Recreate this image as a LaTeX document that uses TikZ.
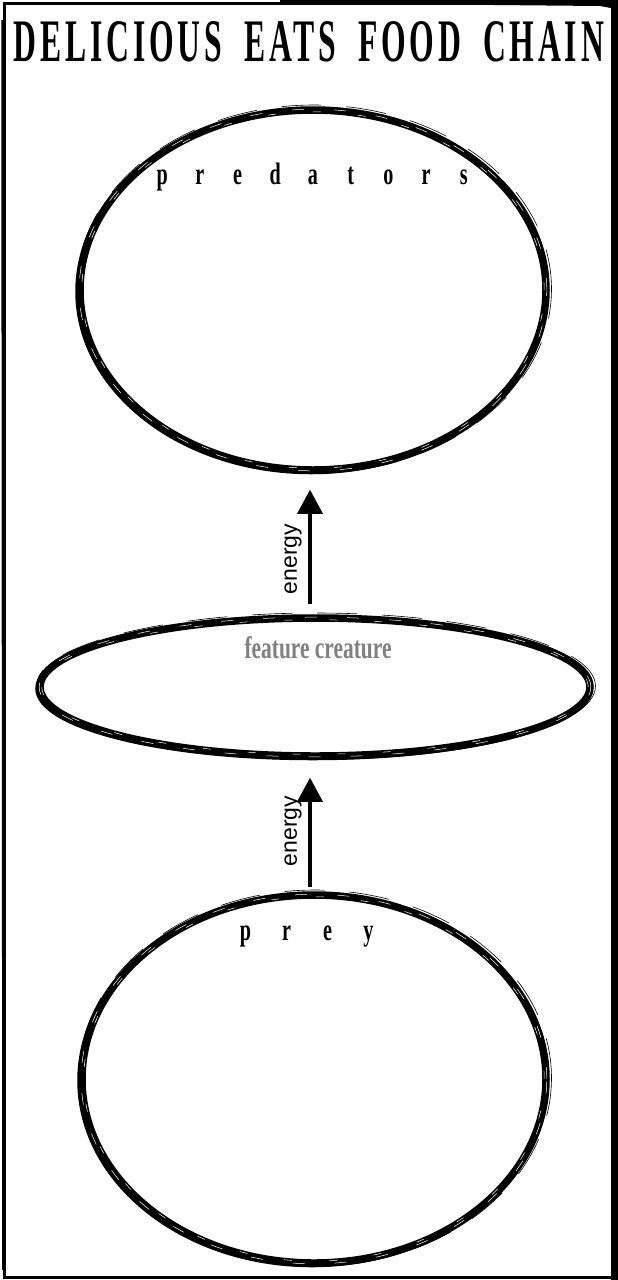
\documentclass[tikz,border=0pt]{standalone}
\usepackage{fontspec}
\usepackage{graphicx}
\setmainfont{Liberation Serif}
\newfontfamily\decofont{Liberation Serif}
\newfontfamily\titlefont[LetterSpace=12]{Liberation Serif}
\newfontfamily\sansfont{Liberation Sans}
\usetikzlibrary{shapes.geometric,arrows.meta}
\newcommand{\spl}[1]{\makebox[37.7pt]{\scalebox{0.65}[1]{#1}}}
\newcommand{\spp}[1]{\makebox[41pt]{\scalebox{0.65}[1]{#1}}}
\begin{document}
\begin{tikzpicture}[x=1pt,y=-1pt,
  ring/.style={draw=black, ellipse, inner sep=0pt, line width=7.5pt},
  roughline/.style={draw=black},
  streak/.style={draw=white, line width=0.5pt, dash pattern=on 12pt off 30pt},
  flow/.style={draw=black, line width=3.5pt, -{Triangle[width=25pt,length=24pt]}},
  energylabel/.style={font=\sansfont\fontsize{23}{23}\selectfont, rotate=90, inner sep=0pt},
  circlelabel/.style={font=\decofont\bfseries\fontsize{31}{31}\selectfont, inner sep=0pt},
  frame/.style={draw=black, line width=3pt}
]
\useasboundingbox (0,0) rectangle (618,1280);
\fill[white] (0,0) rectangle (618,1280);

% frame
\draw[frame] (4,3) -- (613,3) -- (613,1277) -- (4,1277) -- cycle;
\fill[black] (280,0) -- (618,0) -- (618,1280) -- (611,1280) -- (611,8) -- (600,6) -- (280,3) -- cycle;
\draw[black, line width=1.5pt] (2,20) -- (3,1270);

% title
\node[inner sep=0pt] (title) at (309,42)
  {\resizebox{590pt}{40pt}{\titlefont\bfseries DELICIOUS\hspace{0.7em}EATS\hspace{0.7em}FOOD\hspace{0.7em}CHAIN}};

% ellipses
\node[ring, minimum width=466pt, minimum height=360pt] (pred) at (313,290) {};
\node[ring, minimum width=550pt, minimum height=138pt] (feat) at (315,687) {};
\node[ring, minimum width=464pt, minimum height=368pt] (prey) at (314,1079) {};

% rough brush texture
\foreach \n/\rx/\ry in {pred/233/180, feat/275/69, prey/232/184}{
  \draw[roughline, line width=3.5pt] ([shift={(-2pt,-1.5pt)}]\n.center) ellipse ({\rx+1pt} and {\ry+1pt});
  \draw[roughline, line width=0.6pt, dash pattern=on 40pt off 25pt] ([shift={(1pt,1pt)}]\n.center) ellipse ({\rx+4.5pt} and {\ry+4pt});
  \draw[streak] (\n.center) ellipse ({\rx+0.8pt} and {\ry+0.8pt});
  \draw[streak, dash pattern=on 8pt off 37pt] (\n.center) ellipse ({\rx-1.8pt} and {\ry-1.8pt});
}

% labels
\node[circlelabel] (predlbl) at (313,177)
  {\spl{p}\spl{r}\spl{e}\spl{d}\spl{a}\spl{t}\spl{o}\spl{r}\spl{s}};
\node[circlelabel] (preylbl) at (307,936)
  {\spp{p}\spp{r}\spp{e}\spp{y}};
\node[inner sep=0pt, text=black!50] (featlbl) at (318,648)
  {\resizebox{147pt}{22pt}{\decofont\bfseries feature creature}};

% arrows
\draw[flow, shorten <=10pt, shorten >=16pt] ([xshift=-5pt]feat.north) -- ([xshift=-3pt]pred.south);
\draw[flow, shorten <=4pt, shorten >=18pt] ([xshift=-4pt]prey.north) -- ([xshift=-5pt]feat.south);
\node[energylabel] (e1) at (293,559) {energy};
\node[energylabel] (e2) at (293,831) {energy};
\end{tikzpicture}
\end{document}
